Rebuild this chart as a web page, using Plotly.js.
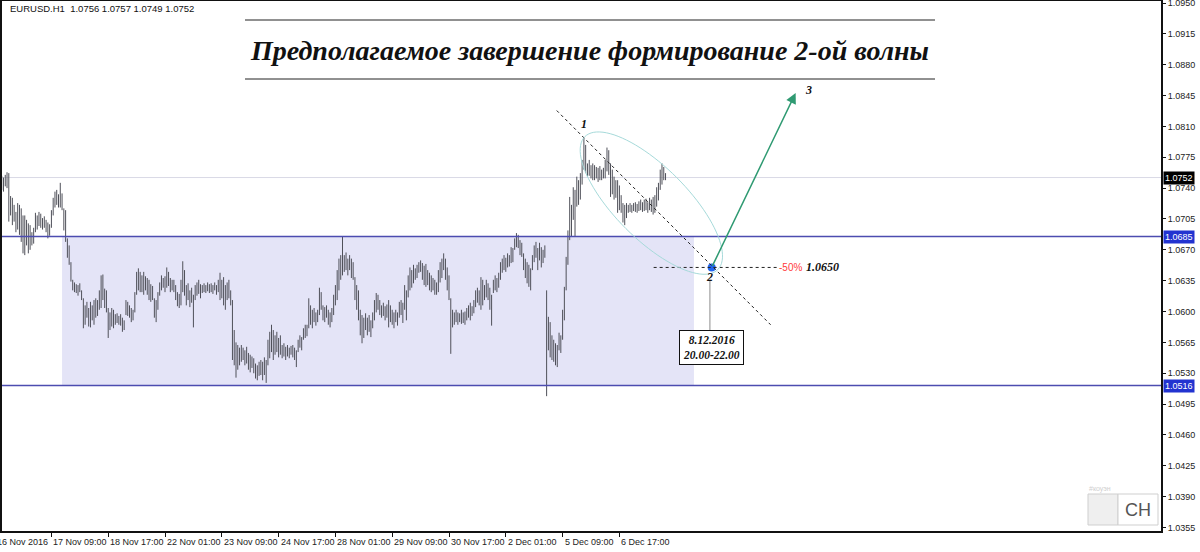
<!DOCTYPE html>
<html>
<head>
<meta charset="utf-8">
<script src="https://cdn.plot.ly/plotly-3.0.1.min.js"></script>
<style>
  html, body { margin: 0; padding: 0; background: #fff; overflow: hidden; }
  #chart { width: 1200px; height: 552px; }
</style>
</head>
<body>
<div id="chart"></div>
<script>
// EURUSD H1 bars (high / low), one entry per hourly bar, oldest first
const barHigh = [
  1.0754,1.0752,1.0755,1.0758,1.0757,1.0731,1.0729,1.0721,1.0713,1.0723,
  1.0721,1.0717,1.0709,1.0709,1.0704,1.0700,1.0698,1.0690,1.0695,1.0712,
  1.0709,1.0713,1.0711,1.0706,1.0708,1.0704,1.0701,1.0699,1.0715,1.0729,
  1.0736,1.0738,1.0733,1.0746,1.0734,1.0717,1.0715,1.0683,1.0675,1.0656,
  1.0636,1.0633,1.0631,1.0630,1.0632,1.0624,1.0615,1.0607,1.0611,1.0604,
  1.0611,1.0607,1.0613,1.0615,1.0613,1.0624,1.0641,1.0642,1.0626,1.0624,
  1.0604,1.0599,1.0604,1.0602,1.0597,1.0598,1.0595,1.0597,1.0593,1.0590,
  1.0613,1.0611,1.0607,1.0604,1.0602,1.0622,1.0645,1.0649,1.0645,1.0641,
  1.0645,1.0640,1.0638,1.0636,1.0631,1.0629,1.0615,1.0613,1.0622,1.0633,
  1.0641,1.0638,1.0640,1.0650,1.0645,1.0638,1.0636,1.0636,1.0630,1.0622,
  1.0620,1.0636,1.0657,1.0647,1.0630,1.0632,1.0624,1.0627,1.0619,1.0630,
  1.0633,1.0636,1.0631,1.0630,1.0632,1.0630,1.0633,1.0631,1.0632,1.0630,
  1.0633,1.0630,1.0636,1.0644,1.0636,1.0639,1.0630,1.0633,1.0636,1.0624,
  1.0613,1.0579,1.0565,1.0562,1.0559,1.0562,1.0559,1.0556,1.0560,1.0553,
  1.0551,1.0549,1.0547,1.0541,1.0539,1.0543,1.0545,1.0543,1.0548,1.0545,
  1.0568,1.0577,1.0585,1.0579,1.0573,1.0577,1.0570,1.0573,1.0562,1.0564,
  1.0560,1.0562,1.0559,1.0561,1.0562,1.0559,1.0556,1.0568,1.0573,1.0571,
  1.0581,1.0585,1.0585,1.0615,1.0607,1.0602,1.0604,1.0599,1.0602,1.0627,
  1.0622,1.0607,1.0605,1.0607,1.0602,1.0599,1.0604,1.0619,1.0630,1.0647,
  1.0660,1.0664,1.0685,1.0664,1.0667,1.0660,1.0664,1.0660,1.0656,1.0639,
  1.0630,1.0624,1.0602,1.0596,1.0593,1.0598,1.0593,1.0596,1.0590,1.0599,
  1.0613,1.0621,1.0619,1.0613,1.0607,1.0610,1.0606,1.0608,1.0613,1.0607,
  1.0602,1.0599,1.0602,1.0599,1.0611,1.0613,1.0610,1.0630,1.0624,1.0641,
  1.0650,1.0647,1.0653,1.0649,1.0653,1.0656,1.0658,1.0655,1.0652,1.0654,
  1.0647,1.0644,1.0641,1.0638,1.0636,1.0633,1.0647,1.0656,1.0660,1.0666,
  1.0660,1.0650,1.0641,1.0615,1.0602,1.0599,1.0602,1.0599,1.0598,1.0602,
  1.0599,1.0600,1.0604,1.0607,1.0610,1.0606,1.0613,1.0624,1.0627,1.0624,
  1.0639,1.0636,1.0630,1.0636,1.0632,1.0627,1.0619,1.0636,1.0641,1.0638,
  1.0644,1.0656,1.0660,1.0664,1.0661,1.0666,1.0664,1.0673,1.0672,1.0683,
  1.0689,1.0687,1.0681,1.0678,1.0666,1.0660,1.0656,1.0653,1.0649,1.0664,
  1.0675,1.0679,1.0672,1.0678,1.0673,1.0670,1.0675,1.0624,1.0594,1.0588,
  1.0573,1.0568,1.0564,1.0562,1.0576,1.0573,1.0602,1.0628,1.0662,1.0692,
  1.0730,1.0721,1.0741,1.0738,1.0753,1.0749,1.0757,1.0772,1.0797,1.0789,
  1.0768,1.0772,1.0766,1.0768,1.0766,1.0764,1.0763,1.0765,1.0761,1.0763,
  1.0772,1.0786,1.0783,1.0768,1.0761,1.0753,1.0749,1.0749,1.0743,1.0732,
  1.0723,1.0721,1.0723,1.0721,1.0723,1.0721,1.0723,1.0724,1.0722,1.0725,
  1.0727,1.0724,1.0727,1.0728,1.0724,1.0729,1.0727,1.0730,1.0732,1.0741,
  1.0746,1.0761,1.0768,1.0764,1.0757
];
const barLow = [
  1.0738,1.0736,1.0742,1.0740,1.0702,1.0709,1.0698,1.0702,1.0690,1.0693,
  1.0687,1.0679,1.0666,1.0664,1.0675,1.0666,1.0670,1.0675,1.0677,1.0690,
  1.0693,1.0697,1.0695,1.0693,1.0695,1.0690,1.0683,1.0686,1.0695,1.0709,
  1.0718,1.0721,1.0718,1.0718,1.0715,1.0692,1.0679,1.0661,1.0653,1.0634,
  1.0624,1.0622,1.0621,1.0618,1.0622,1.0613,1.0581,1.0585,1.0593,1.0583,
  1.0582,1.0590,1.0585,1.0593,1.0595,1.0602,1.0604,1.0613,1.0604,1.0599,
  1.0570,1.0579,1.0583,1.0581,1.0585,1.0587,1.0585,1.0584,1.0577,1.0579,
  1.0596,1.0595,1.0593,1.0588,1.0590,1.0599,1.0619,1.0624,1.0622,1.0622,
  1.0619,1.0624,1.0619,1.0613,1.0611,1.0613,1.0593,1.0588,1.0602,1.0618,
  1.0624,1.0627,1.0622,1.0627,1.0629,1.0622,1.0624,1.0622,1.0613,1.0606,
  1.0604,1.0607,1.0622,1.0618,1.0607,1.0613,1.0605,1.0610,1.0582,1.0613,
  1.0618,1.0620,1.0615,1.0621,1.0622,1.0621,1.0623,1.0621,1.0622,1.0620,
  1.0624,1.0619,1.0622,1.0613,1.0615,1.0607,1.0602,1.0613,1.0615,1.0607,
  1.0545,1.0539,1.0525,1.0534,1.0539,1.0543,1.0545,1.0539,1.0541,1.0534,
  1.0531,1.0536,1.0530,1.0524,1.0522,1.0527,1.0528,1.0522,1.0528,1.0519,
  1.0539,1.0547,1.0554,1.0545,1.0551,1.0554,1.0548,1.0551,1.0547,1.0549,
  1.0545,1.0549,1.0547,1.0551,1.0548,1.0545,1.0537,1.0554,1.0559,1.0556,
  1.0568,1.0570,1.0572,1.0581,1.0585,1.0581,1.0588,1.0584,1.0588,1.0596,
  1.0602,1.0590,1.0588,1.0593,1.0585,1.0582,1.0588,1.0596,1.0607,1.0613,
  1.0624,1.0636,1.0641,1.0645,1.0647,1.0641,1.0647,1.0638,1.0636,1.0613,
  1.0602,1.0590,1.0573,1.0564,1.0570,1.0579,1.0573,1.0577,1.0571,1.0581,
  1.0590,1.0599,1.0602,1.0596,1.0593,1.0595,1.0590,1.0593,1.0582,1.0588,
  1.0585,1.0581,1.0588,1.0584,1.0593,1.0596,1.0587,1.0602,1.0590,1.0616,
  1.0624,1.0627,1.0632,1.0636,1.0638,1.0644,1.0645,1.0636,1.0630,1.0628,
  1.0630,1.0624,1.0622,1.0624,1.0619,1.0619,1.0622,1.0633,1.0638,1.0647,
  1.0636,1.0624,1.0613,1.0552,1.0582,1.0585,1.0588,1.0585,1.0588,1.0586,
  1.0587,1.0585,1.0590,1.0593,1.0590,1.0595,1.0598,1.0605,1.0610,1.0607,
  1.0602,1.0607,1.0613,1.0616,1.0613,1.0602,1.0584,1.0621,1.0624,1.0622,
  1.0627,1.0636,1.0644,1.0647,1.0645,1.0650,1.0651,1.0655,1.0656,1.0670,
  1.0673,1.0672,1.0664,1.0662,1.0647,1.0638,1.0632,1.0628,1.0624,1.0647,
  1.0656,1.0661,1.0647,1.0658,1.0650,1.0655,1.0661,1.0504,1.0556,1.0548,
  1.0545,1.0543,1.0539,1.0537,1.0556,1.0553,1.0568,1.0590,1.0624,1.0653,
  1.0681,1.0685,1.0704,1.0685,1.0719,1.0721,1.0727,1.0744,1.0761,1.0757,
  1.0753,1.0754,1.0751,1.0749,1.0749,1.0751,1.0747,1.0749,1.0749,1.0751,
  1.0751,1.0759,1.0755,1.0730,1.0733,1.0727,1.0729,1.0712,1.0715,1.0712,
  1.0701,1.0698,1.0706,1.0712,1.0713,1.0712,1.0714,1.0713,1.0712,1.0714,
  1.0715,1.0713,1.0714,1.0715,1.0712,1.0715,1.0713,1.0710,1.0712,1.0719,
  1.0726,1.0738,1.0744,1.0749,1.0749
];

// time axis: bar index of each date label and its text
const timeTickIndex = [-4, 28, 60, 92, 124, 156, 188, 220, 252, 284, 316, 348];
const timeTickText = ['16 Nov 2016', '17 Nov 09:00', '18 Nov 17:00', '22 Nov 01:00',
  '23 Nov 09:00', '24 Nov 17:00', '28 Nov 01:00', '29 Nov 09:00', '30 Nov 17:00',
  '2 Dec 01:00', '5 Dec 09:00', '6 Dec 17:00'];

// price scale labels
const priceTicks = [1.0355, 1.0390, 1.0425, 1.0460, 1.0495, 1.0530, 1.0565, 1.0600,
  1.0635, 1.0670, 1.0705, 1.0740, 1.0775, 1.0810, 1.0845, 1.0880, 1.0915, 1.0950];

// levels and wave markup
const lastBar = {open: 1.0756, high: 1.0757, low: 1.0749, close: 1.0752};
const rangeTop = 1.0685;
const rangeBottom = 1.0516;
const rangeStartBar = 34, rangeEndBar = 390;
const wave1 = {bar: 328, price: 1.0808};
const wave2 = {bar: 400, price: 1.0650};
const wave3 = {bar: 447.3, price: 1.0848};
const channelLine = {bar0: 312.7, price0: 1.0828, bar1: 433.2, price1: 1.0585};
const fiboLevel = {bar0: 367.3, bar1: 436.6, price: 1.0650, text: '-50%'};
const targetTime = ['8.12.2016', '20.00-22.00'];
const cluster = {bar: 366, price: 1.0723};

// geometry of the plot area
const W = 1200, H = 552;
const M = {l: 1, r: 38, t: 0, b: 20};
const plotW = W - M.l - M.r, plotH = H - M.t - M.b;
const xRange = [-0.4, 653.7];
const yRange = [1.03499, 1.09534];
const pxBar = plotW / (xRange[1] - xRange[0]);
const pxPrice = plotH / (yRange[1] - yRange[0]);
const px2paperX = p => (p - M.l) / plotW;
const px2paperY = p => 1 - (p - M.t) / plotH;

const serif = 'Liberation Serif, DejaVu Serif, serif';
const sans = 'Liberation Sans, Arial, sans-serif';

// bars as vertical low-high strokes
const bx = [], by = [];
barHigh.forEach((h, k) => { bx.push(k, k, null); by.push(barLow[k], h, null); });

const traces = [
  {
    type: 'scatter', mode: 'lines', x: bx, y: by,
    line: {color: '#4f5059', width: 1}, hoverinfo: 'skip', showlegend: false
  },
  {
    type: 'scatter', mode: 'markers', x: [wave2.bar], y: [wave2.price],
    marker: {color: '#2266ee', size: 8, line: {width: 0}}, hoverinfo: 'skip', showlegend: false
  }
];

// ellipse around the correction, rotated 45 degrees on screen
let ellPath = '';
{
  const a = 94, b = 36, c = Math.cos(Math.PI / 4), s = Math.sin(Math.PI / 4);
  for (let k = 0; k <= 96; k++) {
    const t = k / 96 * 2 * Math.PI;
    const ex = a * Math.cos(t), ey = b * Math.sin(t);
    const dx = ex * c - ey * s, dy = ex * s + ey * c;
    const X = cluster.bar + dx / pxBar, Y = cluster.price - dy / pxPrice;
    ellPath += (k ? 'L' : 'M') + X.toFixed(3) + ',' + Y.toFixed(6);
  }
  ellPath += 'Z';
}

const shapes = [
  // consolidation range
  {type: 'rect', xref: 'x', yref: 'y', x0: rangeStartBar, x1: rangeEndBar, y0: rangeBottom, y1: rangeTop,
   fillcolor: '#e4e4f7', line: {width: 0}, layer: 'below'},
  // bid line
  {type: 'line', xref: 'paper', yref: 'y', x0: 0, x1: 1, y0: lastBar.close, y1: lastBar.close,
   line: {color: '#d9d9e6', width: 1}, layer: 'below'},
  // range borders
  {type: 'line', xref: 'paper', yref: 'y', x0: 0, x1: 1, y0: rangeTop, y1: rangeTop,
   line: {color: '#4c4cb0', width: 1.5}},
  {type: 'line', xref: 'paper', yref: 'y', x0: 0, x1: 1, y0: rangeBottom, y1: rangeBottom,
   line: {color: '#4c4cb0', width: 1.5}},
  // channel line through the wave 1 top
  {type: 'line', xref: 'x', yref: 'y', x0: channelLine.bar0, y0: channelLine.price0,
   x1: channelLine.bar1, y1: channelLine.price1, line: {color: '#222', width: 1, dash: '3px,3px'}},
  // 50% level
  {type: 'line', xref: 'x', yref: 'y', x0: fiboLevel.bar0, x1: fiboLevel.bar1, y0: fiboLevel.price, y1: fiboLevel.price,
   line: {color: '#222', width: 1, dash: '3px,3px'}},
  // ellipse
  {type: 'path', xref: 'x', yref: 'y', path: ellPath, line: {color: '#a6dada', width: 1}},
  // connector from point 2 to the time box
  {type: 'line', xref: 'x', yref: 'y', x0: wave2.bar - 1, x1: wave2.bar - 1, y0: 1.0636, y1: 1.0577,
   line: {color: '#8c8c8c', width: 1}},
  // chart frame
  {type: 'rect', xref: 'paper', yref: 'paper', x0: 0, x1: 1, y0: 0, y1: 1,
   line: {color: '#111', width: 2}, fillcolor: 'rgba(0,0,0,0)'},
  // rules around the heading
  {type: 'line', xref: 'paper', yref: 'paper', x0: px2paperX(245), x1: px2paperX(935),
   y0: px2paperY(20), y1: px2paperY(20), line: {color: '#222', width: 1}},
  {type: 'line', xref: 'paper', yref: 'paper', x0: px2paperX(245), x1: px2paperX(935),
   y0: px2paperY(79), y1: px2paperY(79), line: {color: '#222', width: 1}},
  // badge in the corner
  {type: 'rect', xref: 'paper', yref: 'paper', x0: px2paperX(1088), x1: px2paperX(1118),
   y0: px2paperY(525), y1: px2paperY(494), fillcolor: '#efefef', line: {color: '#cfcfcf', width: 1}},
  {type: 'rect', xref: 'paper', yref: 'paper', x0: px2paperX(1118), x1: px2paperX(1158),
   y0: px2paperY(525), y1: px2paperY(494), fillcolor: '#ffffff', line: {color: '#cfcfcf', width: 1}}
];

const annotations = [];

// symbol header
annotations.push({
  xref: 'paper', yref: 'paper', x: 0, y: 1, xanchor: 'left', yanchor: 'top', xshift: 7, yshift: -1,
  text: 'EURUSD.H1\u00a0 ' + [lastBar.open, lastBar.high, lastBar.low, lastBar.close].map(v => v.toFixed(4)).join(' '),
  showarrow: false, font: {family: sans, size: 9.5, color: '#111'}
});

// time labels, left-aligned at their tick
timeTickIndex.forEach((ix, k) => {
  const x = Math.max(ix, xRange[0]);
  annotations.push({
    xref: 'x', yref: 'paper', x: x, y: 0, xanchor: 'left', yanchor: 'top',
    xshift: (ix - x) * pxBar, yshift: -3, text: timeTickText[k], showarrow: false,
    font: {family: sans, size: 9, color: '#222'}
  });
});

// price tags on the scale
[[lastBar.close, '#000000'], [rangeTop, '#2233d0'], [rangeBottom, '#2233d0']].forEach(([p, bg]) => {
  annotations.push({
    xref: 'paper', yref: 'y', x: 1, y: p, xanchor: 'left', yanchor: 'middle', xshift: 1,
    text: p.toFixed(4), showarrow: false, bgcolor: bg, borderpad: 1,
    font: {family: sans, size: 9, color: '#ffffff'}
  });
});

const waveFont = {family: serif, size: 12, color: '#111', weight: 'bold', style: 'italic'};
annotations.push({x: wave1.bar, y: wave1.price, text: '1', showarrow: false, font: waveFont, yshift: 4});
annotations.push({x: wave2.bar - 1, y: wave2.price, text: '2', showarrow: false, font: waveFont, yshift: -10});
annotations.push({x: wave3.bar + 7, y: wave3.price, text: '3', showarrow: false, font: waveFont, yshift: 3});

// projected wave 3
annotations.push({
  x: wave3.bar, y: wave3.price, ax: wave2.bar, ay: wave2.price, axref: 'x', ayref: 'y',
  text: '', showarrow: true, arrowhead: 2, arrowsize: 1.4, arrowwidth: 1.5, arrowcolor: '#2f9a72', standoff: 0
});

annotations.push({
  x: fiboLevel.bar1, y: fiboLevel.price, xanchor: 'left', text: fiboLevel.text, showarrow: false,
  font: {family: sans, size: 10, color: '#ff3b3b'}
});
annotations.push({
  x: fiboLevel.bar1 + 15.5, y: fiboLevel.price, xanchor: 'left', text: fiboLevel.price.toFixed(4), showarrow: false,
  font: {family: serif, size: 12, color: '#111', weight: 'bold', style: 'italic'}
});

// time window for point 2
annotations.push({
  x: wave2.bar, y: 1.0559, text: targetTime.join('<br>'), showarrow: false,
  bgcolor: '#ffffff', bordercolor: '#111', borderwidth: 1, borderpad: 3,
  font: {family: serif, size: 11.5, color: '#111', weight: 'bold', style: 'italic'}
});

// badge texts
annotations.push({
  xref: 'paper', yref: 'paper', x: px2paperX(1087), y: px2paperY(489), xanchor: 'left', yanchor: 'middle',
  text: '#коуэн', showarrow: false, font: {family: sans, size: 7, color: '#cfcfcf'}
});
annotations.push({
  xref: 'paper', yref: 'paper', x: px2paperX(1138), y: px2paperY(510), xanchor: 'center', yanchor: 'middle',
  text: 'CH', showarrow: false, font: {family: sans, size: 18, color: '#555'}
});

const layout = {
  width: W, height: H,
  margin: M,
  paper_bgcolor: '#ffffff', plot_bgcolor: '#ffffff',
  showlegend: false,
  title: {
    text: 'Предполагаемое завершение формирование 2-ой волны',
    xref: 'container', yref: 'container', x: 590 / W, y: 1 - 50 / H, xanchor: 'center', yanchor: 'middle',
    font: {family: serif, size: 28, color: '#111', weight: 'bold', style: 'italic'}
  },
  xaxis: {
    range: xRange, showgrid: false, zeroline: false, showline: false,
    tickmode: 'array', tickvals: timeTickIndex.filter(v => v >= xRange[0]),
    showticklabels: false, ticks: 'outside', ticklen: 4, tickcolor: '#111', tickwidth: 1, fixedrange: true
  },
  yaxis: {
    range: yRange, side: 'right', showgrid: false, zeroline: false, showline: false,
    tickmode: 'array', tickvals: priceTicks, ticktext: priceTicks.map(v => v.toFixed(4)),
    ticks: 'outside', ticklen: 3, tickcolor: '#111', tickwidth: 1, ticklabeloverflow: 'allow',
    tickfont: {family: sans, size: 9, color: '#222'}, fixedrange: true
  },
  shapes: shapes,
  annotations: annotations
};

Plotly.newPlot('chart', traces, layout, {displayModeBar: false, staticPlot: true});
</script>
</body>
</html>
